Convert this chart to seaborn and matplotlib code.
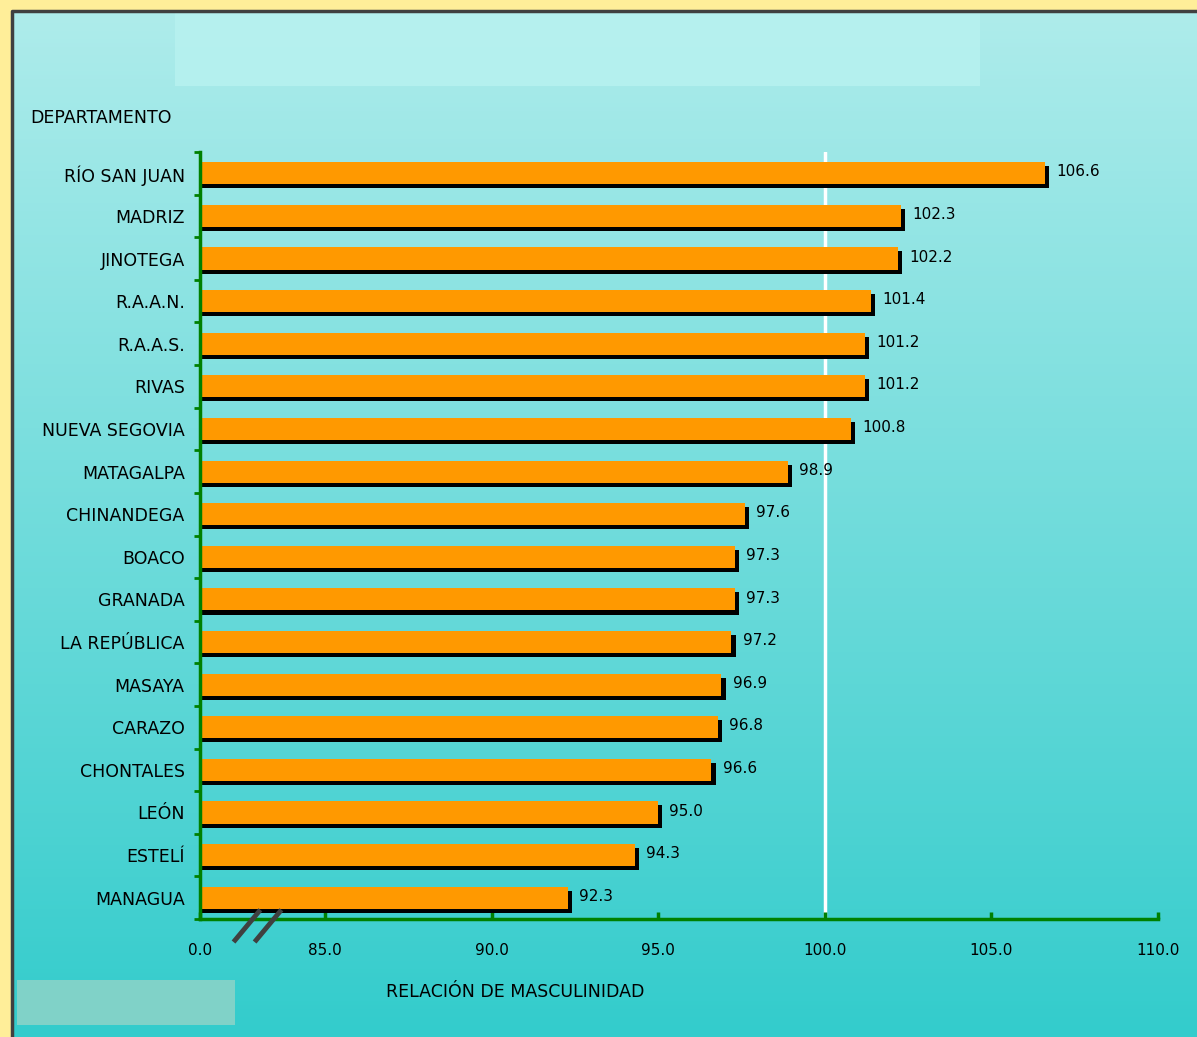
import numpy as np
import pandas as pd
import matplotlib
matplotlib.use("Agg")
import matplotlib.pyplot as plt
import matplotlib.patheffects as pe
from matplotlib.patches import Rectangle
import seaborn as sns

# data
departamentos = ["RÍO SAN JUAN", "MADRIZ", "JINOTEGA", "R.A.A.N.", "R.A.A.S.", "RIVAS",
                 "NUEVA SEGOVIA", "MATAGALPA", "CHINANDEGA", "BOACO", "GRANADA",
                 "LA REPÚBLICA", "MASAYA", "CARAZO", "CHONTALES", "LEÓN", "ESTELÍ", "MANAGUA"]
relacion = [106.6, 102.3, 102.2, 101.4, 101.2, 101.2, 100.8, 98.9, 97.6, 97.3, 97.3,
            97.2, 96.9, 96.8, 96.6, 95.0, 94.3, 92.3]
tick_vals = [81.25, 85, 90, 95, 100, 105, 110]
tick_labels = ["0.0", "85.0", "90.0", "95.0", "100.0", "105.0", "110.0"]

df = pd.DataFrame({"Departamento": departamentos, "Relacion": relacion})

sns.set_style("white")
plt.rcParams["font.family"] = ["DejaVu Sans"]
plt.rcParams["text.color"] = "black"
plt.rcParams["xtick.color"] = "black"
plt.rcParams["ytick.color"] = "black"
FS = 12.5

fig = plt.figure(figsize=(11.97, 10.37), dpi=100)
fig.patch.set_facecolor("#FFEE99")

# gradient panel behind the chart
W, H = 1197, 1037
bg = fig.add_axes([12 / W, 0, (W - 12) / W, (H - 11) / H], zorder=0)
grad = np.linspace(0, 1, 256).reshape(-1, 1)
cmap = matplotlib.colors.LinearSegmentedColormap.from_list("bg", ["#AEECEB", "#33CCCC"])
bg.imshow(grad, aspect="auto", cmap=cmap, extent=[0, 1, 0, 1], origin="upper")
bg.set_xlim(0, 1)
bg.set_ylim(0, 1)
bg.axis("off")
bg.plot([0, 0, 1], [0, 1, 1], transform=bg.transAxes, color="#404040", lw=2.5, clip_on=False)
# empty title / footer boxes
pw, ph = W - 12, H - 11
bg.add_patch(Rectangle(((175 - 12) / pw, 1 - (86 - 11) / ph), (980 - 175) / pw, (86 - 13) / ph,
                       facecolor="#B8F2F0", edgecolor="none", alpha=0.8))
bg.add_patch(Rectangle(((17 - 12) / pw, 1 - (1025 - 11) / ph), (235 - 17) / pw, (1025 - 980) / ph,
                       facecolor="#80D2C8", edgecolor="none"))

ax = fig.add_axes([200 / W, 1 - 919 / H, (1158 - 200) / W, (919 - 152) / H], zorder=1)
ax.patch.set_alpha(0)

ax.axvline(100, color="white", lw=2.5, zorder=0.5)

sns.barplot(data=df, x="Relacion", y="Departamento", orient="h", color="#FF9900",
            width=0.52, saturation=1, ax=ax, zorder=2)
for bar in ax.patches:
    bar.set_edgecolor("none")
    bar.set_path_effects([pe.SimplePatchShadow(offset=(2.9, -2.9), shadow_rgbFace="black", alpha=1),
                          pe.Normal()])

for i, v in enumerate(relacion):
    ax.annotate(f"{v:.1f}", xy=(v, i), xytext=(8, 1), textcoords="offset points",
                ha="left", va="center", fontsize=FS - 1.5, color="black")

ax.set_xlim(81.25, 110)
ax.set_ylim(17.5, -0.5)
ax.set_xticks(tick_vals)
ax.set_xticklabels(tick_labels, fontsize=FS - 1.5)
ax.set_yticks(range(len(departamentos)))
ax.set_yticklabels(departamentos, fontsize=FS)
ax.set_yticks(np.arange(-0.5, 18, 1), minor=True)
ax.tick_params(axis="y", which="both", left=True)
ax.tick_params(axis="x", which="both", bottom=True)
ax.tick_params(axis="y", which="major", length=0, pad=11)
ax.tick_params(axis="y", which="minor", length=4, width=2, color="#008000", direction="out")
ax.tick_params(axis="x", which="major", length=5, width=2.5, color="#008000", direction="in", pad=17)
ax.set_xlabel("")
ax.set_ylabel("")
for s in ["top", "right"]:
    ax.spines[s].set_visible(False)
for s in ["left", "bottom"]:
    ax.spines[s].set_color("#008000")
    ax.spines[s].set_linewidth(2.5)

# axis break marks
for x0 in [0.035, 0.057]:
    ax.plot([x0, x0 + 0.028], [-0.03, 0.012], transform=ax.transAxes, color="#404040",
            lw=3.5, clip_on=False, zorder=5, solid_capstyle="butt")

fig.text(30 / W, 1 - 118 / H, "DEPARTAMENTO", ha="left", va="center", fontsize=FS)
fig.text(515 / W, 1 - 992 / H, "RELACIÓN DE MASCULINIDAD", ha="center", va="center", fontsize=FS)

fig.savefig("out.png", dpi=100, facecolor=fig.get_facecolor())
